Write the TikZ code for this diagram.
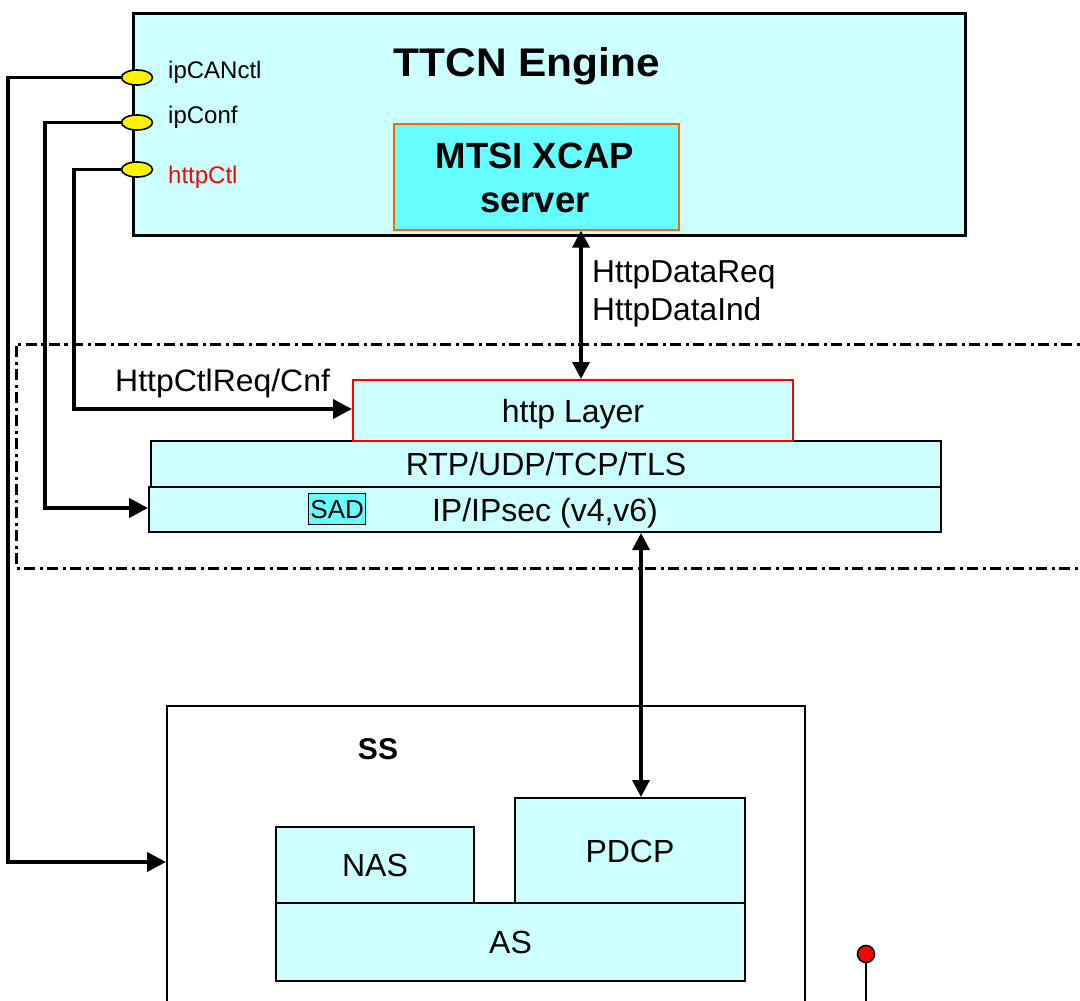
\documentclass[tikz,border=0pt]{standalone}
\usepackage{fontspec}
\setmainfont{Liberation Sans}
\usetikzlibrary{arrows.meta,shapes.geometric}
\definecolor{lcyan}{HTML}{CCFFFF}
\definecolor{mcyan}{HTML}{66FFFF}
\definecolor{orangeb}{HTML}{FF6600}
\newcommand\fsz[2]{\fontsize{#1}{#2}\selectfont}
\tikzset{
  box/.style={draw, line width=2pt, fill=lcyan, inner sep=0pt, anchor=north west,
    font=\fsz{32}{38}, text height=23pt, text depth=0pt},
  port/.style={ellipse, draw, line width=1.6pt, fill=yellow, minimum width=31pt,
    minimum height=15pt, inner sep=0pt},
  conn/.style={line width=3.8pt, -{Triangle[length=19pt,width=19pt]}},
  dconn/.style={line width=3.4pt, {Triangle[length=17pt,width=17pt]}-{Triangle[length=17pt,width=17pt]}},
  lbl/.style={font=\fsz{31}{37}, inner sep=0pt},
  plbl/.style={font=\fsz{24}{29}, inner sep=0pt, anchor=base west},
  dashdot/.style={line width=3pt, dash pattern=on 11pt off 4.5pt on 3pt off 4.5pt},
}
\begin{document}
\begin{tikzpicture}[x=1pt,y=-1pt]
\useasboundingbox (0,0) rectangle (1080,1001);
\fill[white] (0,0) rectangle (1080,1001);

% TTCN engine
\node[box, line width=2.5pt, minimum width=832pt, minimum height=222pt] (ttcn) at (132,12) {};
\node[inner sep=0pt, anchor=base, font=\bfseries\fsz{40}{48}] (ttcnt) at (527,76) {\scalebox{1.06}[1]{TTCN Engine}};
\node[box, draw=orangeb, line width=1.6pt, fill=mcyan, minimum width=285pt, minimum height=106pt] (mtsi) at (393,123) {};
\node[inner sep=0pt, anchor=base, font=\bfseries\fsz{36.5}{44}] (mtsi1) at (535,168) {MTSI XCAP};
\node[inner sep=0pt, anchor=base, font=\bfseries\fsz{36.5}{44}] (mtsi2) at (535,212) {server};

% ports
\node[port] (p1) at (137,77.5) {};
\node[port] (p2) at (137,122.5) {};
\node[port] (p3) at (137,169.5) {};
\node[plbl] (l1) at (168,78) {ipCANctl};
\node[plbl] (l2) at (168,123) {ipConf};
\node[plbl, text=red] (l3) at (168,183) {httpCtl};

% dash-dot region
\draw[dashdot] (1095,344) -- (16,344) -- (16,568) -- (1095,568);

% layers
\node[box, minimum width=790pt, minimum height=46pt] (rtp) at (150,440) {RTP/UDP/TCP/TLS};
\node[box, minimum width=792pt, minimum height=45pt] (ip) at (148,486) {IP/IPsec (v4,v6)};
\node[box, draw=red, minimum width=440pt, minimum height=61pt] (http) at (352,379) {http Layer};
\node[box, line width=1.4pt, fill=mcyan, minimum width=57pt, minimum height=31pt,
  font=\fsz{26}{31}, text height=18.5pt] (sad) at (308,493) {SAD};

% SS
\node[draw, line width=1.6pt, fill=white, anchor=north west, minimum width=638pt, minimum height=330pt, inner sep=0pt] (ss) at (166,705) {};
\node[inner sep=0pt, anchor=base, font=\bfseries\fsz{30}{36}] (sst) at (378,759) {SS};
\node[box, minimum width=198pt, minimum height=76pt] (nas) at (275,826) {NAS};
\node[box, minimum width=230pt, minimum height=105pt] (pdcp) at (514,797) {PDCP};
\node[box, minimum width=469pt, minimum height=78pt] (as) at (275,902) {AS};

% red dot
\node[circle, draw, line width=1.6pt, fill=red, minimum size=17pt, inner sep=0pt] (dot) at (866,954) {};
\coordinate (dotend) at (866,1010);
\draw[line width=2.2pt] (dot.south) -- (dotend);

% connectors from ports
\coordinate (k1) at (8,862);
\coordinate (k2) at (45,508);
\coordinate (k3) at (74,409);
\draw[conn] (p1.west) -| (k1) -- (k1 -| ss.west);
\draw[conn] (p2.west) -| (k2) -- (k2 -| ip.west);
\draw[conn] (p3.west) -| (k3) -- (k3 -| http.west);
\node[lbl, anchor=base west] (ctl) at (115,391) {\scalebox{1.03}[1]{HttpCtlReq/Cnf}};

% vertical double arrows
\coordinate (u1) at (581,0);
\coordinate (u2) at (641,0);
\draw[dconn] (mtsi.south -| u1) -- (http.north -| u1);
\draw[dconn] (ip.south -| u2) -- (pdcp.north -| u2);
\node[lbl, anchor=base west, font=\fsz{31.7}{38}] (dreq) at (592,282) {HttpDataReq};
\node[lbl, anchor=base west, font=\fsz{31.7}{38}] (dind) at (592,320) {HttpDataInd};
\end{tikzpicture}
\end{document}
